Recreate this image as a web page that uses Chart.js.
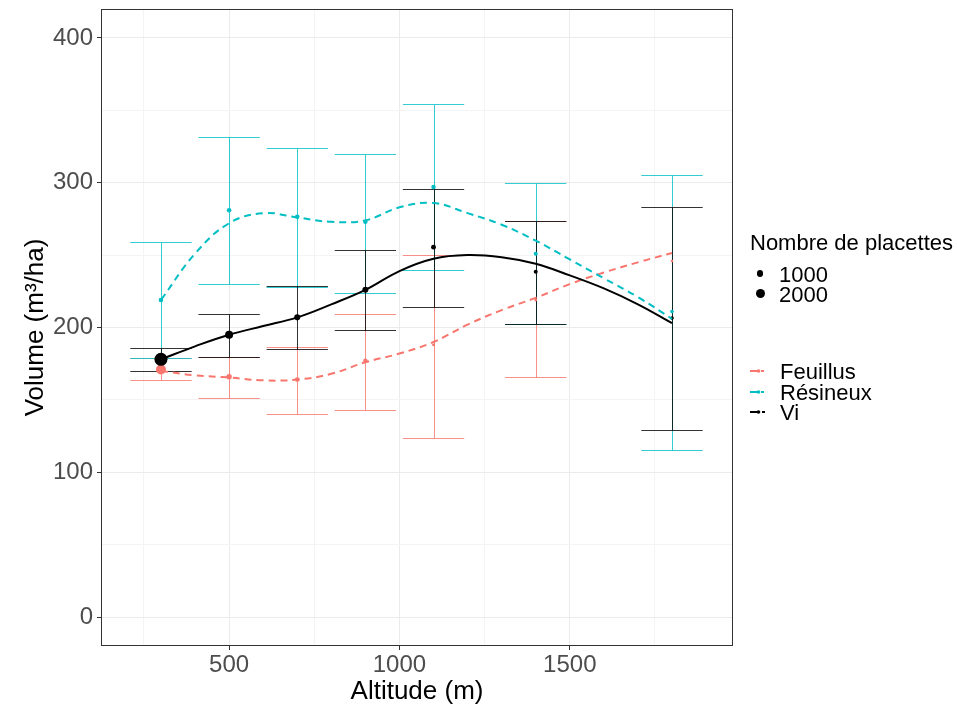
<!DOCTYPE html>
<html>
<head>
<meta charset="utf-8">
<script src="https://cdn.jsdelivr.net/npm/chart.js@4.4.0/dist/chart.umd.min.js"></script>
<style>
  body { margin: 0; background: #fff; font-family: "Liberation Sans", Arial, sans-serif; }
  #wrap { position: relative; width: 957px; height: 708px; }
  .lg { position: absolute; font-size: 22px; line-height: 22px; color: #000; white-space: nowrap; }
  .dot { position: absolute; background: #000; border-radius: 50%; }
  .key { position: absolute; }
</style>
</head>
<body>
<div id="wrap">
  <canvas id="myChart" width="957" height="708"></canvas>
  <div class="lg" style="left:750px;top:232px">Nombre de placettes</div>
  <div class="dot" id="dot1000"></div>
  <div class="lg" style="left:779px;top:264px">1000</div>
  <div class="dot" id="dot2000"></div>
  <div class="lg" style="left:779px;top:284px">2000</div>
  <svg class="key" style="left:748px;top:364px" width="22" height="56" id="keys"></svg>
  <div class="lg" style="left:780px;top:361px">Feuillus</div>
  <div class="lg" style="left:780px;top:382px">Résineux</div>
  <div class="lg" style="left:780px;top:402px">Vi</div>
</div>
<script>
// altitude classes (m)
const altitudes = [300, 500, 700, 900, 1100, 1400, 1800];

// mean volume + error bar bounds, m3/ha
const feuillusVol  = [171, 166, 164, 177, 188, 219, 246];
const feuillusLow  = [164, 151.5, 140.5, 143, 124, 166, null];
const feuillusHigh = [179, 179.5, 186.5, 209.5, 250, 273.5, null];
const feuillusN    = [2450, 720, 520, 480, 220, 200, 150];

const resineuxVol  = [219, 281, 276.5, 273, 297, 251, 211];
const resineuxLow  = [179, 230, 228, 223.5, 240, 202.5, 115.5];
const resineuxHigh = [259, 331.5, 324, 320, 354.5, 300, 305.5];
const resineuxN    = [520, 520, 520, 500, 500, 400, 330];

const viVol  = [178, 195, 207, 226, 255.5, 238.5, 206.5];
const viLow  = [170, 179.5, 185, 198.5, 214.5, 202.5, 129];
const viHigh = [186, 209.5, 228.5, 253.5, 296, 273.5, 283];
const viN    = [4200, 1580, 900, 890, 600, 400, 330];

// smoothed curves
const smoothAlt      = [300, 400, 500, 600, 700, 800, 900, 1000, 1100, 1200, 1300, 1400, 1500, 1600, 1700, 1800];
const feuillusSmooth = [170, 167, 165.5, 163.5, 164, 168, 176, 182, 190, 202, 212, 220.5, 230, 238, 245, 251.5];
const resineuxSmooth = [219, 251, 272, 279, 276, 273, 274, 283, 286, 279, 271, 260, 247, 234, 221, 206];
const viSmooth       = [178, 187, 195, 201, 207, 216, 226, 239, 247.5, 250, 248.5, 244, 236, 227, 216, 203];

const xTicks = [250, 500, 750, 1000, 1250, 1500, 1750];
const yTicks = [0, 50, 100, 150, 200, 250, 300, 350, 400];
const xLabels = [500, 1000, 1500];
const yLabels = [0, 100, 200, 300, 400];

const RED = '#F8766D', CYAN = '#00BFC4', BLACK = '#000000';
const capHalf = 90;

function radius(n) {
    return 4.5 * Math.sqrt(n / 2000);
}
function pts(vals) {
    return altitudes.map((a, i) => ({x: a, y: vals[i]}));
}
function curve(vals) {
    return smoothAlt.map((a, i) => ({x: a, y: vals[i]}));
}

const errorSeries = [
    {color: 'rgba(248,118,109,0.8)', low: feuillusLow, high: feuillusHigh},
    {color: 'rgba(0,191,196,0.8)', low: resineuxLow, high: resineuxHigh},
    {color: 'rgba(0,0,0,0.8)', low: viLow, high: viHigh}
];

const errorBars = {
    id: 'errorBars',
    beforeDatasetsDraw(chart) {
        const {ctx, chartArea, scales: {x, y}} = chart;
        ctx.save();
        ctx.beginPath();
        ctx.rect(chartArea.left, chartArea.top, chartArea.width, chartArea.height);
        ctx.clip();
        ctx.lineWidth = 1;
        errorSeries.forEach(s => {
            ctx.strokeStyle = s.color;
            altitudes.forEach((a, i) => {
                if (s.low[i] == null) return;
                const px = Math.round(x.getPixelForValue(a)) + 0.5;
                const x0 = x.getPixelForValue(a - capHalf);
                const x1 = x.getPixelForValue(a + capHalf);
                const yl = Math.round(y.getPixelForValue(s.low[i])) + 0.5;
                const yh = Math.round(y.getPixelForValue(s.high[i])) + 0.5;
                ctx.beginPath();
                ctx.moveTo(px, yl); ctx.lineTo(px, yh);
                ctx.moveTo(x0, yl); ctx.lineTo(x1, yl);
                ctx.moveTo(x0, yh); ctx.lineTo(x1, yh);
                ctx.stroke();
            });
        });
        ctx.restore();
    },
    afterDraw(chart) {
        const {ctx, chartArea} = chart;
        ctx.save();
        ctx.strokeStyle = '#333333';
        ctx.lineWidth = 1;
        ctx.strokeRect(Math.round(chartArea.left) + 0.5, Math.round(chartArea.top) + 0.5,
            Math.round(chartArea.width) - 1, Math.round(chartArea.height) - 1);
        ctx.restore();
    }
};

const tickFont = {family: "'Liberation Sans', Arial, sans-serif", size: 24};
const titleFont = {family: "'Liberation Sans', Arial, sans-serif", size: 26};

const config = {
    type: 'scatter',
    data: {
        datasets: [{
            type: 'line', label: 'Vi smooth', data: curve(viSmooth), order: 0,
            borderColor: BLACK, borderWidth: 2, tension: 0.4, pointRadius: 0, fill: false
        }, {
            type: 'line', label: 'Résineux smooth', data: curve(resineuxSmooth), order: 1,
            borderColor: CYAN, borderWidth: 2, borderDash: [7, 5], tension: 0.4, pointRadius: 0, fill: false
        }, {
            type: 'line', label: 'Feuillus smooth', data: curve(feuillusSmooth), order: 2,
            borderColor: RED, borderWidth: 2, borderDash: [7, 5], tension: 0.4, pointRadius: 0, fill: false
        }, {
            label: 'Vi', data: pts(viVol), order: 3,
            backgroundColor: BLACK, borderWidth: 0, pointRadius: viN.map(radius)
        }, {
            label: 'Résineux', data: pts(resineuxVol), order: 4,
            backgroundColor: CYAN, borderWidth: 0, pointRadius: resineuxN.map(radius)
        }, {
            label: 'Feuillus', data: pts(feuillusVol), order: 5,
            backgroundColor: RED, borderWidth: 0, pointRadius: feuillusN.map(radius)
        }]
    },
    options: {
        responsive: false,
        animation: false,
        layout: {padding: {top: 9, right: 224, left: 0, bottom: 0}},
        plugins: {legend: {display: false}, tooltip: {enabled: false}},
        scales: {
            x: {
                type: 'linear', min: 124, max: 1979,
                afterBuildTicks: s => { s.ticks = xTicks.map(v => ({value: v})); },
                afterFit: s => { s.height = 62; s.paddingLeft = 0; s.paddingRight = 0; },
                border: {display: false},
                grid: {
                    color: c => xLabels.includes(c.tick && c.tick.value) ? '#EBEBEB' : '#F4F4F4',
                    tickColor: c => xLabels.includes(c.tick && c.tick.value) ? '#333333' : 'rgba(0,0,0,0)',
                    tickLength: 4
                },
                ticks: {
                    autoSkip: false, maxRotation: 0, padding: 1,
                    color: '#4D4D4D', font: tickFont,
                    callback: v => xLabels.includes(v) ? String(v) : ''
                },
                title: {display: true, text: 'Altitude (m)', color: '#000', font: titleFont, padding: {top: 0, bottom: 1}}
            },
            y: {
                type: 'linear', min: -20, max: 420,
                afterBuildTicks: s => { s.ticks = yTicks.map(v => ({value: v})); },
                afterFit: s => { s.width = 101; s.paddingTop = 0; s.paddingBottom = 0; },
                border: {display: false},
                grid: {
                    color: c => yLabels.includes(c.tick && c.tick.value) ? '#EBEBEB' : '#F4F4F4',
                    tickColor: c => yLabels.includes(c.tick && c.tick.value) ? '#333333' : 'rgba(0,0,0,0)',
                    tickLength: 4
                },
                ticks: {
                    autoSkip: false, padding: 4,
                    color: '#4D4D4D', font: tickFont,
                    callback: v => yLabels.includes(v) ? String(v) : ''
                },
                title: {display: true, text: 'Volume (m³/ha)', color: '#000', font: titleFont, padding: {top: 20, bottom: 0}}
            }
        }
    },
    plugins: [errorBars]
};

const myChart = new Chart(document.getElementById('myChart'), config);

// size legend dots
function placeDot(id, n, cx, cy) {
    const r = radius(n);
    const el = document.getElementById(id);
    el.style.width = (2 * r) + 'px';
    el.style.height = (2 * r) + 'px';
    el.style.left = (cx - r) + 'px';
    el.style.top = (cy - r) + 'px';
}
placeDot('dot1000', 1000, 760, 273.5);
placeDot('dot2000', 2000, 760, 293.5);

// line keys (dashed segment with a point)
const keyColors = [RED, CYAN, BLACK];
const keyY = [7, 28, 48];
let svg = '';
keyColors.forEach((c, i) => {
    svg += '<line x1="2" x2="19" y1="' + keyY[i] + '" y2="' + keyY[i] + '" stroke="' + c +
        '" stroke-width="2" stroke-dasharray="' + (i === 2 ? '10,2,3,2' : '8,3,3,3') + '"/>';
    svg += '<circle cx="10.5" cy="' + keyY[i] + '" r="1.8" fill="' + c + '"/>';
});
document.getElementById('keys').innerHTML = svg;
</script>
</body>
</html>
